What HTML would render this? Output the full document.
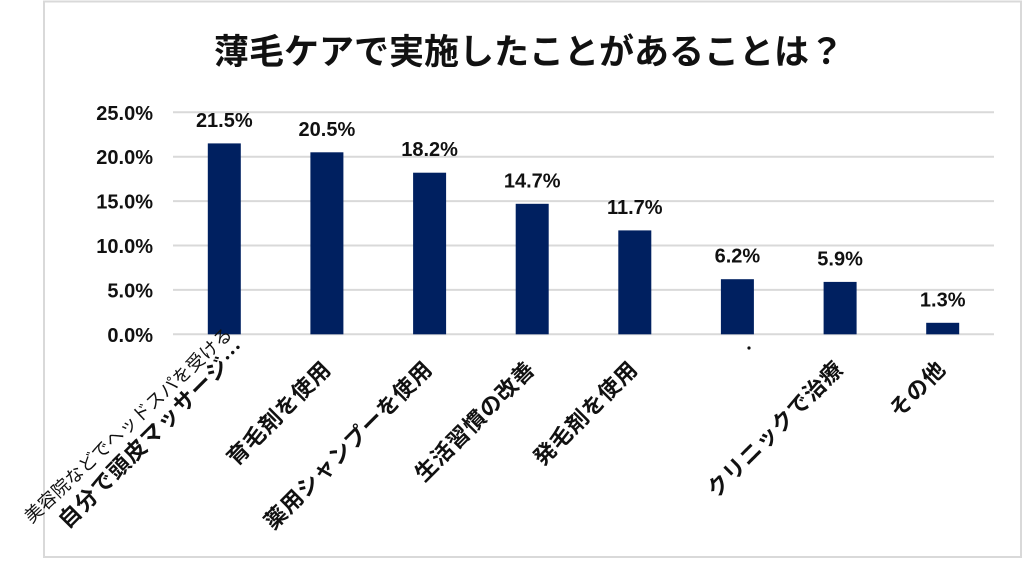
<!DOCTYPE html>
<html>
<head>
<meta charset="utf-8">
<style>
  html, body { margin: 0; padding: 0; background: #ffffff; }
  body { width: 1024px; height: 581px; overflow: hidden; }
  svg { display: block; }
  .num { font-family: "Liberation Sans", "Noto Sans CJK JP", sans-serif; font-weight: bold; font-size: 20px; fill: #111; }
  .cat { font-family: "Liberation Sans", "Noto Sans CJK JP", sans-serif; font-weight: bold; font-size: 22px; fill: #111; }
  .catl { font-family: "Liberation Sans", "Noto Sans CJK JP", sans-serif; font-weight: normal; font-size: 18px; fill: #111; }
  .title { font-family: "Liberation Sans", "Noto Sans CJK JP", sans-serif; font-weight: bold; font-size: 35px; fill: #111; }
</style>
</head>
<body>
<svg width="1024" height="581" viewBox="0 0 1024 581" xmlns="http://www.w3.org/2000/svg">
  <rect x="0" y="0" width="1024" height="581" fill="#ffffff"/>
  <!-- chart border -->
  <rect x="44" y="1.5" width="977" height="555.5" fill="#ffffff" stroke="#d9d9d9" stroke-width="2"/>

  <!-- title -->
  <text class="title" x="529" y="64" text-anchor="middle">薄毛ケアで実施したことがあることは？</text>

  <!-- gridlines -->
  <g stroke="#d9d9d9" stroke-width="2">
    <line x1="173" y1="112.3" x2="994" y2="112.3"/>
    <line x1="173" y1="156.7" x2="994" y2="156.7"/>
    <line x1="173" y1="201.1" x2="994" y2="201.1"/>
    <line x1="173" y1="245.5" x2="994" y2="245.5"/>
    <line x1="173" y1="289.9" x2="994" y2="289.9"/>
    <line x1="173" y1="334.3" x2="994" y2="334.3"/>
  </g>

  <!-- y axis labels -->
  <g class="num" text-anchor="end">
    <text x="153" y="119.8">25.0%</text>
    <text x="153" y="164.2">20.0%</text>
    <text x="153" y="208.6">15.0%</text>
    <text x="153" y="253.0">10.0%</text>
    <text x="153" y="297.4">5.0%</text>
    <text x="153" y="341.8">0.0%</text>
  </g>

  <!-- bars -->
  <g fill="#002060">
    <rect x="207.8" y="143.4" width="33" height="190.9"/>
    <rect x="310.4" y="152.3" width="33" height="182.0"/>
    <rect x="413.1" y="172.7" width="33" height="161.6"/>
    <rect x="515.7" y="203.8" width="33" height="130.5"/>
    <rect x="618.3" y="230.4" width="33" height="103.9"/>
    <rect x="720.9" y="279.2" width="33" height="55.1"/>
    <rect x="823.6" y="281.9" width="33" height="52.4"/>
    <rect x="926.2" y="322.8" width="33" height="11.5"/>
  </g>

  <!-- value labels -->
  <g class="num" text-anchor="middle">
    <text x="224.3" y="126.9">21.5%</text>
    <text x="326.9" y="135.8">20.5%</text>
    <text x="429.6" y="156.2">18.2%</text>
    <text x="532.2" y="187.3">14.7%</text>
    <text x="634.8" y="213.9">11.7%</text>
    <text x="737.4" y="262.7">6.2%</text>
    <text x="840.1" y="265.4">5.9%</text>
    <text x="942.7" y="306.3">1.3%</text>
  </g>

  <!-- category labels -->
  <text class="catl" x="31.6" y="523.9" transform="rotate(-43 31.6 523.9)" textLength="276" lengthAdjust="spacing">美容院などでヘッドスパを受ける</text>
  <text class="cat" x="67.6" y="529.6" transform="rotate(-45 67.6 529.6)" textLength="253" lengthAdjust="spacing">自分で頭皮マッサージ<tspan style="font-family:'Noto Sans CJK JP', sans-serif;">…</tspan></text>

  <text class="cat" x="236.1" y="466.9" transform="rotate(-45 236.1 466.9)" textLength="135.6" lengthAdjust="spacing">育毛剤を使用</text>
  <text class="cat" x="273.5" y="530.8" transform="rotate(-45 273.5 530.8)" textLength="226" lengthAdjust="spacing">薬用シャンプーを使用</text>
  <text class="cat" x="424.1" y="482.9" transform="rotate(-45 424.1 482.9)" textLength="158.2" lengthAdjust="spacing">生活習慣の改善</text>
  <text class="cat" x="542.8" y="466.9" transform="rotate(-45 542.8 466.9)" textLength="135.6" lengthAdjust="spacing">発毛剤を使用</text>
  <circle cx="749" cy="348" r="1.6" fill="#111"/>
  <text class="cat" x="716.2" y="498.8" transform="rotate(-45 716.2 498.8)" textLength="180.8" lengthAdjust="spacing">クリニックで治療</text>
  <text class="cat" x="898.6" y="418.9" transform="rotate(-45 898.6 418.9)" textLength="67.8" lengthAdjust="spacing">その他</text>
</svg>
</body>
</html>
